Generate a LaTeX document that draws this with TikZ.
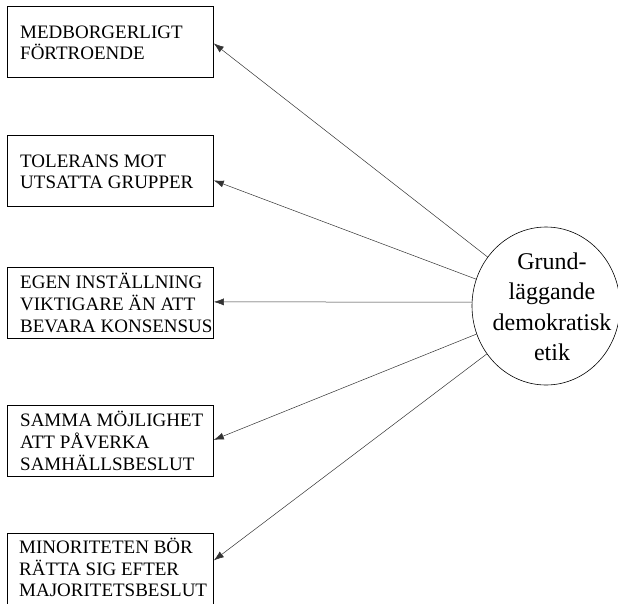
\documentclass[tikz,border=0pt]{standalone}
\usepackage{fontspec}
\setmainfont{Liberation Serif}
\usetikzlibrary{arrows.meta,shapes.geometric}
\tikzset{
  box/.style={draw, line width=0.8pt, minimum width=206pt, minimum height=71pt, inner sep=0pt, anchor=north west},
  boxtext/.style={anchor=west, align=left, inner sep=0pt, font=\fontsize{19}{21.7}\selectfont},
  circ/.style={draw, ellipse, line width=0.6pt, minimum width=148pt, minimum height=158pt, inner sep=0pt},
  circtext/.style={align=center, inner sep=0pt, font=\fontsize{24}{30.5}\selectfont},
  conn/.style={line width=0.5pt, draw=black!80, -{Latex[length=10pt,width=7pt]}}
}
\begin{document}
\begin{tikzpicture}[x=1pt,y=-1pt]
\useasboundingbox (0,0) rectangle (618,603);
\node[box] (b1) at (7,6) {};
\node[box] (b2) at (7,135) {};
\node[box] (b3) at (7,267) {};
\node[box] (b4) at (7,405) {};
\node[box, minimum height=72pt] (b5) at (7,533) {};
\node[boxtext] (t1) at ([xshift=13pt,yshift=-1pt]b1.west) {MEDBORGERLIGT\\FÖRTROENDE};
\node[boxtext] (t2) at ([xshift=13pt,yshift=-1pt]b2.west) {TOLERANS MOT\\UTSATTA GRUPPER};
\node[boxtext] (t3) at ([xshift=13pt,yshift=0pt]b3.west) {EGEN INSTÄLLNING\\VIKTIGARE ÄN ATT\\BEVARA KONSENSUS};
\node[boxtext] (t4) at ([xshift=13pt,yshift=0pt]b4.west) {SAMMA MÖJLIGHET\\ATT PÅVERKA\\SAMHÄLLSBESLUT};
\node[boxtext] (t5) at ([xshift=12pt,yshift=2pt]b5.west) {MINORITETEN BÖR\\RÄTTA SIG EFTER\\MAJORITETSBESLUT};
\node[circ] (c) at (546,306) {};
\node[circtext] (ct) at (552,307) {Grund-\\läggande\\demokratisk\\etik};
\draw[conn] (c.140) -- ([yshift=-1.5pt]b1.east);
\draw[conn] (c.159) -- ([yshift=-9.5pt]b2.east);
\draw[conn] (c.177) -- ([yshift=1pt]b3.east);
\draw[conn] (c.202) -- ([yshift=1pt]b4.east);
\draw[conn] (c.219) -- ([yshift=9pt]b5.east);
\end{tikzpicture}
\end{document}
